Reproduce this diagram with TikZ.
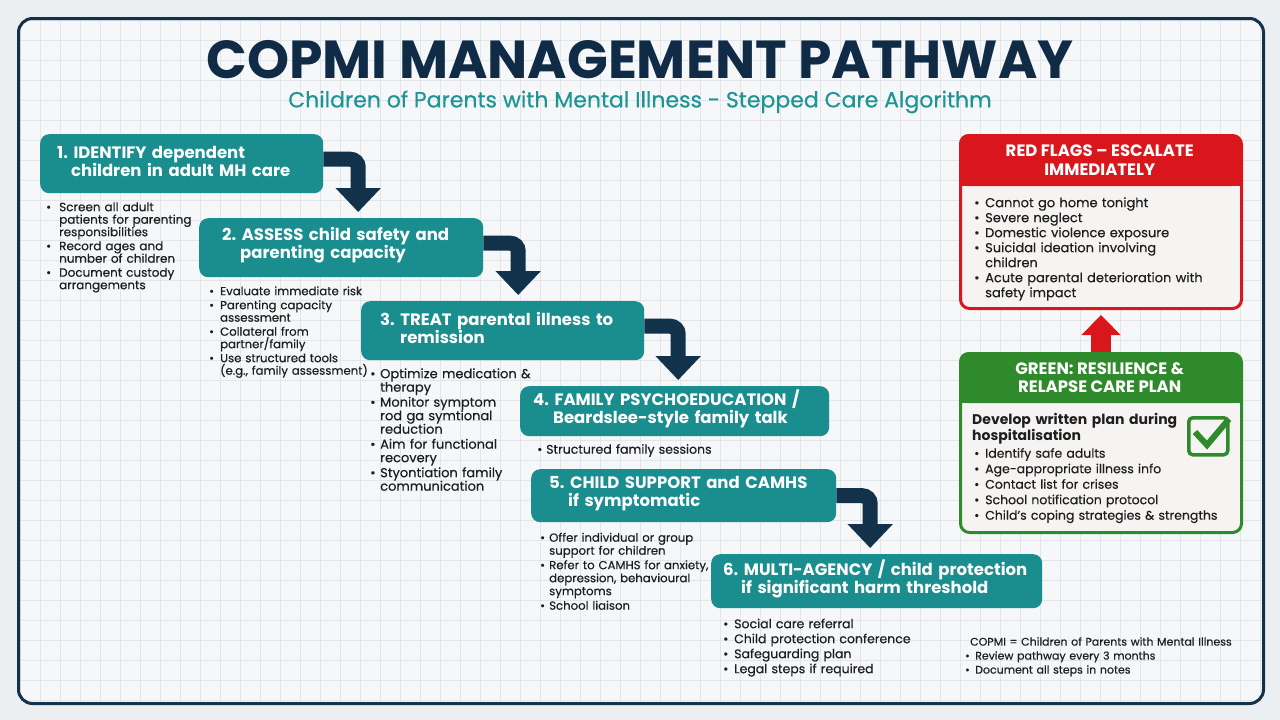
\documentclass[tikz,border=0pt]{standalone}
\usepackage{fontspec}
\setmainfont{Poppins}
\newfontfamily\pmed{Poppins}[FakeBold=0.4]
\usetikzlibrary{arrows.meta,calc}
\definecolor{teal1}{HTML}{1A8E8E}
\definecolor{navy}{HTML}{12324C}
\definecolor{titlec}{HTML}{102B45}
\definecolor{subc}{HTML}{1E9494}
\definecolor{redc}{HTML}{D9161C}
\definecolor{greenc}{HTML}{2F8A2B}
\definecolor{bodyc}{HTML}{F6F4F3}
\definecolor{gridc}{HTML}{E2E6EA}
\definecolor{bgc}{HTML}{F5F7F9}
\definecolor{outc}{HTML}{ECEFF2}
\definecolor{txt}{HTML}{1E1E1E}
\newlength{\bulw}
\setlength{\bulw}{10pt}
\newcommand{\bi}[1]{\par\hangindent=\bulw\hangafter=1\noindent\makebox[\bulw][l]{\textbullet}#1}
\newcommand{\boxend}{\par\vspace*{5pt}}
\tikzset{
  stepbox/.style={fill=teal1, rounded corners=9pt, text=white, anchor=north west,
    font=\frenchspacing\bfseries\fontsize{16.5}{18}\selectfont, inner ysep=0pt},
  blist/.style={anchor=north west, inner sep=0pt, text=txt},
  flow/.style={draw=navy, line width=15pt, rounded corners=8pt,
    -{Triangle[width=44pt,length=24pt]}},
  panel/.style={fill=bodyc, line width=3pt, rounded corners=9pt, anchor=north west,
    minimum width=281pt},
  phead/.style={rounded corners=9pt, anchor=north west, minimum width=281pt},
  phtext/.style={text=white, font=\bfseries\fontsize{16.5}{18.5}\selectfont, align=center},
  gridline/.style={draw=gridc, line width=0.7pt}
}
\begin{document}
\frenchspacing
\begin{tikzpicture}[x=1pt,y=-1pt]
\useasboundingbox (0,0) rectangle (1280,720);
\fill[outc] (0,0) rectangle (1280,720);
\begin{scope}
\clip[rounded corners=14pt] (17,17) rectangle (1262,702);
\fill[bgc] (17,17) rectangle (1262,702);
\foreach \x in {20,40,...,1260} \draw[gridline] (\x,0) -- (\x,720);
\foreach \y in {20,40,...,700} \draw[gridline] (0,\y) -- (1280,\y);
\end{scope}
\node[draw=navy, line width=3pt, rounded corners=14pt, minimum width=1245pt,
  minimum height=685pt, anchor=north west] (frame) at (17,17) {};

% title
\node[inner sep=0pt, text=titlec, font=\bfseries\fontsize{53.5}{56}\selectfont] (title) at (640,60) {COPMI MANAGEMENT PATHWAY};
\node[inner sep=0pt, text=subc, font=\pmed\fontsize{22}{24}\selectfont] (sub) at (640,102) {Children of Parents with Mental Illness - Stepped Care Algorithm};

% step boxes
\node[stepbox, minimum width=283pt, minimum height=59pt, inner xsep=17pt, text width=249pt] (b1) at (40,134)
  {\hangindent=14pt\hangafter=1 1. IDENTIFY dependent\newline children in adult MH care\boxend};
\node[stepbox, minimum width=284pt, minimum height=59pt, inner xsep=23pt, text width=238pt] (b2) at (199,218)
  {\hangindent=18pt\hangafter=1 2. ASSESS child safety and\newline parenting capacity\boxend};
\node[stepbox, minimum width=283pt, minimum height=59pt, inner xsep=19pt, text width=245pt] (b3) at (361,301)
  {\hangindent=20pt\hangafter=1 3. TREAT parental illness to\newline remission\boxend};
\node[stepbox, minimum width=309pt, minimum height=50pt, inner xsep=13pt, text width=283pt] (b4) at (520,386)
  {\hangindent=20pt\hangafter=1 4. FAMILY PSYCHOEDUCATION /\newline Beardslee-style family talk\boxend};
\node[stepbox, minimum width=305pt, minimum height=53pt, inner xsep=18pt, text width=269pt] (b5) at (531,469)
  {\hangindent=19pt\hangafter=1 5. CHILD SUPPORT and CAMHS\newline if symptomatic\boxend};
\node[stepbox, minimum width=331pt, minimum height=54pt, inner xsep=12pt, text width=307pt] (b6) at (711,554)
  {\hangindent=18pt\hangafter=1 6. MULTI-AGENCY / child protection\newline if significant harm threshold\boxend};

% flow arrows
\draw[flow] ([yshift=4.5pt]b1.east) -| ([xshift=17pt,yshift=6pt]b2.north);
\draw[flow] ([yshift=4.5pt]b2.east) -| ([xshift=15.5pt,yshift=6pt]b3.north);
\draw[flow] ([yshift=4.5pt]b3.east) -| ([xshift=3.5pt,yshift=6pt]b4.north);
\draw[flow] (b5.east) -| ([xshift=-6.5pt,yshift=6pt]b6.north);

% bullet lists
\node[blist, text width=160pt, font=\pmed\fontsize{12}{12.5}\selectfont] (l1) at (46,197)
  {\setlength{\parskip}{1.5pt}\setlength{\bulw}{13pt}%
   \bi{Screen all adult\newline patients for parenting\newline responsibilities}
   \bi{Record ages and\newline number of children}
   \bi{Document custody\newline arrangements}\par};
\node[blist, text width=170pt, font=\pmed\fontsize{11.7}{12.5}\selectfont] (l2) at (209,281)
  {\setlength{\parskip}{1.5pt}\setlength{\bulw}{11pt}%
   \bi{Evaluate immediate risk}
   \bi{Parenting capacity\newline assessment}
   \bi{Collateral from\newline partner/family}
   \bi{Use structured tools\newline (e.g., family assessment)}\par};
\node[blist, text width=170pt, font=\pmed\fontsize{13}{13.5}\selectfont] (l3) at (370,363)
  {\setlength{\parskip}{1.5pt}\setlength{\bulw}{10pt}%
   \bi{Optimize medication \&\newline therapy}
   \bi{Monitor symptom\newline rod ga symtional\newline reduction}
   \bi{Aim for functional\newline recovery}
   \bi{Styontiation family\newline communication}\par};
\node[blist, text width=200pt, font=\pmed\fontsize{12.5}{13.5}\selectfont] (l4) at (537,440)
  {\setlength{\bulw}{9pt}\bi{Structured family sessions}\par};
\node[blist, text width=180pt, font=\pmed\fontsize{11.7}{13}\selectfont] (l5) at (540,527)
  {\setlength{\parskip}{1.5pt}\setlength{\bulw}{9pt}%
   \bi{Offer individual or group\newline support for children}
   \bi{Refer to CAMHS for anxiety,\newline depression, behavioural\newline symptoms}
   \bi{School liaison}\par};
\node[blist, text width=200pt, font=\pmed\fontsize{12.5}{15}\selectfont] (l6) at (723,613)
  {\setlength{\bulw}{11pt}%
   \bi{Social care referral}
   \bi{Child protection conference}
   \bi{Safeguarding plan}
   \bi{Legal steps if required}\par};

% notes
\node[blist, text width=290pt, font=\pmed\fontsize{11}{14}\selectfont] (notes) at (965,637)
  {\setlength{\bulw}{10pt}%
   \hspace*{5pt}COPMI = Children of Parents with Mental Illness\par
   \bi{Review pathway every 3 months}
   \bi{Document all steps in notes}\par};

% red flags panel
\node[panel, draw=redc, minimum height=173pt] (red) at (959,134) {};
\node[phead, fill=redc, minimum height=52pt] (redh) at (959,134) {};
\fill[redc] (redh.south west) rectangle ([yshift=12pt]redh.south east);
\node[phtext] (redt) at (redh.center) {RED FLAGS – ESCALATE\\IMMEDIATELY};
\node[blist, text width=260pt, font=\pmed\fontsize{13}{15}\selectfont] (redl) at (974,192)
  {\setlength{\bulw}{11pt}%
   \bi{Cannot go home tonight}
   \bi{Severe neglect}
   \bi{Domestic violence exposure}
   \bi{Suicidal ideation involving\newline children}
   \bi{Acute parental deterioration with\newline safety impact}\par};

% green panel
\node[panel, draw=greenc, minimum height=179pt] (green) at (959,352) {};
\node[phead, fill=greenc, minimum height=51pt] (greenh) at (959,352) {};
\fill[greenc] (greenh.south west) rectangle ([yshift=12pt]greenh.south east);
\node[phtext] (greent) at (greenh.center) {GREEN: RESILIENCE \&\\RELAPSE CARE PLAN};
\node[blist, text width=210pt, font=\bfseries\fontsize{14}{16}\selectfont] (greenlead) at (972,413)
  {Develop written plan during\newline hospitalisation\par};
\node[blist, text width=260pt, font=\pmed\fontsize{12.5}{15.5}\selectfont] (greenl) at (974,442)
  {\setlength{\bulw}{11pt}%
   \bi{Identify safe adults}
   \bi{Age-appropriate illness info}
   \bi{Contact list for crises}
   \bi{School notification protocol}
   \bi{Child’s coping strategies \& strengths}\par};
\node[draw=greenc, line width=3.5pt, rounded corners=4pt, minimum width=39pt,
  minimum height=37pt, anchor=north west] (chk) at (1187,416) {};
\draw[greenc, line width=6pt] (1195,432) -- (1207,445) -- (1229,419);

% escalate arrow
\draw[redc, line width=20pt, -{Triangle[width=38pt,length=20pt]}] (green.north) -- ([yshift=-5pt]red.south);
\end{tikzpicture}
\end{document}
